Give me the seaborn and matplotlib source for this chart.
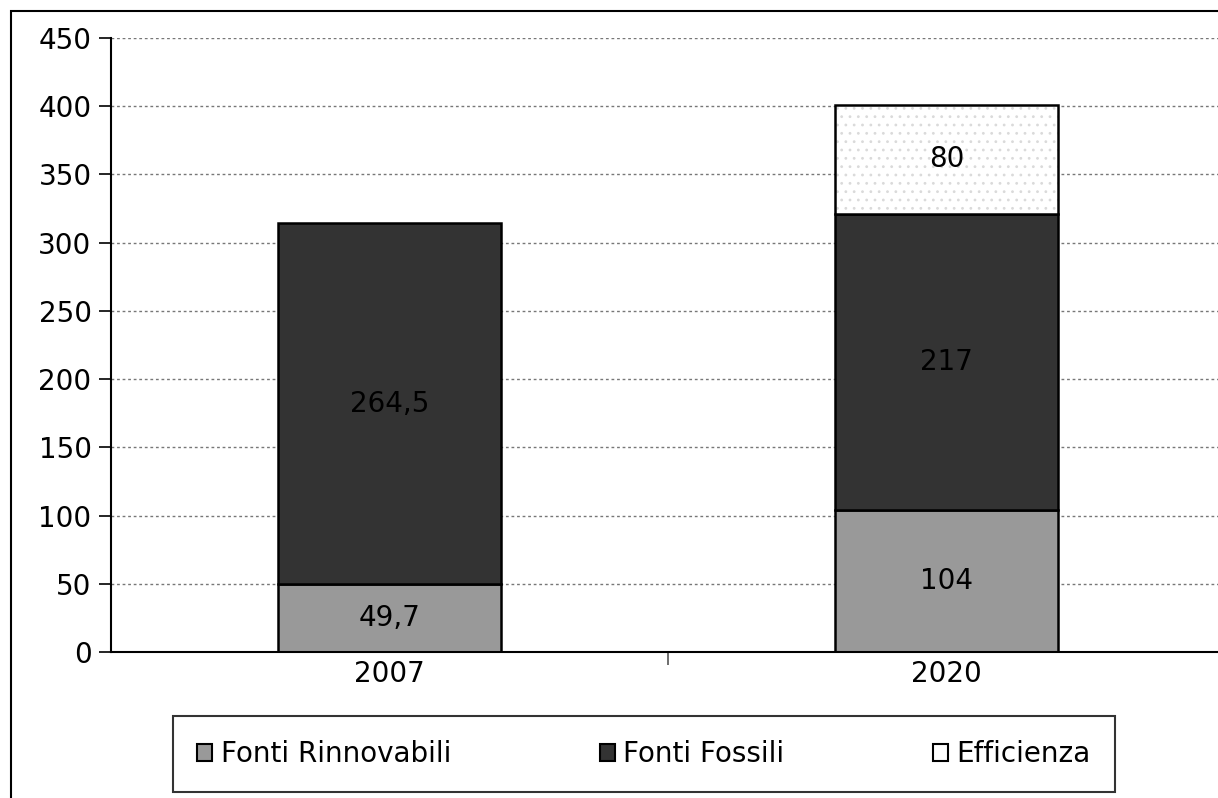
import matplotlib
matplotlib.use("Agg")
import matplotlib.pyplot as plt
import matplotlib.patches as mpatches
import seaborn as sns
import pandas as pd
import numpy as np

years = ["2007", "2020"]
rinnovabili = [49.7, 104]
fossili = [264.5, 217]
efficienza = [0, 80]
series_names = ["Fonti Rinnovabili", "Fonti Fossili", "Efficienza"]
yticks = [0, 50, 100, 150, 200, 250, 300, 350, 400, 450]

sns.set_theme(style="white")
plt.rcParams['font.family'] = ['DejaVu Sans']
plt.rcParams['text.color'] = 'black'
plt.rcParams['xtick.color'] = 'black'
plt.rcParams['ytick.color'] = 'black'
plt.rcParams['hatch.linewidth'] = 0.8

FS = 20

fig = plt.figure(figsize=(12.18, 7.98), dpi=100)
ax = fig.add_axes([111/1218, 1-652/798, (1225-111)/1218, (652-38)/798])

df = pd.DataFrame({"year": years, "ren": rinnovabili, "fos": fossili, "eff": efficienza})
bottom2 = np.array(rinnovabili)
bottom3 = np.array(rinnovabili) + np.array(fossili)

sns.barplot(data=df, x="year", y="ren", color="#999999", edgecolor="black",
            linewidth=1.8, width=0.4, saturation=1, ax=ax)
sns.barplot(data=df, x="year", y="fos", color="#333333", edgecolor="black",
            linewidth=1.8, width=0.4, saturation=1, bottom=bottom2, ax=ax)
# dotted fill (light dots), then black outline on top
sns.barplot(data=df, x="year", y="eff", color="white", edgecolor="#dadada",
            linewidth=0, width=0.4, saturation=1, bottom=bottom3, hatch="..", ax=ax)
sns.barplot(data=df, x="year", y="eff", color="black", fill=False,
            linewidth=1.8, width=0.4, saturation=1, bottom=bottom3, ax=ax)
for p in ax.patches[4:]:
    if p.get_height() == 0:
        p.set_visible(False)

def fmt(v):
    return ("%g" % v).replace(".", ",")

for i in range(len(years)):
    segs = [(0, rinnovabili[i]), (rinnovabili[i], fossili[i]), (bottom3[i], efficienza[i])]
    for b, h in segs:
        if h > 0:
            ax.text(i, b + h / 2, fmt(h), ha="center", va="center", fontsize=FS, color="black")

ax.set_xlim(-0.5, 1.5)
ax.set_ylim(0, 450)
ax.set_yticks(yticks)
ax.set_yticklabels([str(t) for t in yticks], fontsize=FS)
ax.set_xlabel("")
ax.set_ylabel("")
ax.set_xticks([0, 1])
ax.set_xticklabels(years, fontsize=FS)
ax.tick_params(axis="x", which="major", length=0, pad=6, bottom=False)
ax.set_xticks([0.5, 1.5], minor=True)
ax.tick_params(axis="x", which="minor", length=9, width=1.2, color="#555555",
               direction="out", bottom=True)
ax.tick_params(axis="y", which="major", length=9, width=1.2, color="black",
               direction="out", left=True, pad=5)
ax.grid(axis="y", color="#777777", linestyle=(0, (2, 2)), linewidth=1)
ax.set_axisbelow(True)
for s in ["top", "right"]:
    ax.spines[s].set_visible(False)
for s in ["left", "bottom"]:
    ax.spines[s].set_color("black")
    ax.spines[s].set_linewidth(1.5)

handles = [
    mpatches.Patch(facecolor="#999999", edgecolor="black", linewidth=1.5, label=series_names[0]),
    mpatches.Patch(facecolor="#333333", edgecolor="black", linewidth=1.5, label=series_names[1]),
    mpatches.Patch(facecolor="white", edgecolor="black", linewidth=1.5, label=series_names[2]),
]
leg = fig.legend(handles=handles, loc="center", bbox_to_anchor=(644/1218, 1-754/798), ncol=3,
                 frameon=True, fancybox=False, edgecolor="black",
                 handlelength=0.55, handleheight=0.55, handletextpad=0.3, columnspacing=5.35,
                 borderpad=0.85, prop={"family": "DejaVu Sans", "size": FS})
leg.get_frame().set_linewidth(1.5)

border = mpatches.Rectangle((11/1218, -0.1), 1.2, 1 - 11/798 + 0.1, transform=fig.transFigure,
                            fill=False, edgecolor="black", linewidth=1.5)
fig.patches.append(border)

fig.savefig("out.png", dpi=100)
